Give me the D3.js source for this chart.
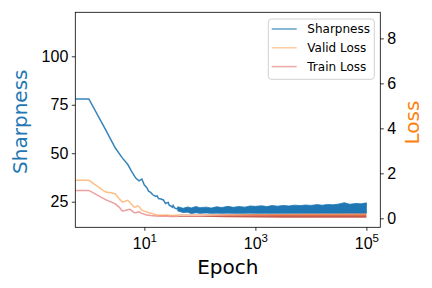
<!DOCTYPE html>
<html>
<head>
<meta charset="utf-8">
<script src="https://cdn.jsdelivr.net/npm/d3@7"></script>
<style>
  body { margin: 0; background: #fff; }
  svg { font-family: "DejaVu Sans", sans-serif; }
  .axis text { font-size: 16px; fill: #000; }
  .axis line, .axis path { stroke: #000; stroke-width: 0.8; }
</style>
</head>
<body>
<div id="chart"></div>
<script>
// sharpness, early part (epoch 0 is drawn at the left edge, like matplotlib's log clip)
const sharpEpochs = [0, 1, 2, 3, 4, 5, 6, 7, 8, 9, 10, 11, 12, 13, 14, 16, 17, 18, 20, 22, 24, 25, 27, 28, 30, 32, 33, 35, 38, 40];
const sharpValues = [78, 78, 62.2, 52.7, 47.6, 44.3, 40.3, 37.2, 35.8, 36.7, 33.6, 32.4, 30.3, 29.8, 28.7, 27.7, 28.0, 26.6, 26.4, 25.9, 24.1, 24.3, 24.6, 23.2, 22.8, 22.1, 23.1, 21.8, 21.3, 21.8];

// sharpness, dense noisy tail read as an envelope
const tailEpochs = [40, 50, 60, 70, 85, 100, 130, 160, 200, 250, 320, 400, 500, 650, 800, 1000, 1300, 1600, 2000, 2500, 3200, 4000, 5000, 6500, 8000, 10000, 13000, 16000, 20000, 25000, 32000, 40000, 50000, 65000, 80000, 100000];
const sharpHi = [22.4, 21.6, 22.3, 21.8, 22.5, 21.9, 22.2, 21.7, 22.4, 22.0, 22.6, 22.1, 22.5, 22.2, 22.8, 22.6, 22.9, 22.5, 23.0, 22.7, 23.1, 22.8, 23.2, 23.0, 23.3, 23.1, 23.5, 23.2, 23.6, 23.4, 23.8, 24.5, 23.7, 24.1, 23.9, 24.4];
const sharpLo = [20.2, 19.4, 19.6, 18.9, 19.3, 19.0, 19.2, 19.0, 19.1, 19.0, 19.1, 19.0, 19.0, 19.0, 19.1, 19.0, 19.0, 19.0, 19.0, 19.0, 19.0, 19.0, 19.0, 19.0, 19.0, 19.0, 19.0, 19.0, 19.0, 19.0, 19.0, 19.0, 19.0, 19.0, 19.0, 19.0];

// losses, early part
const validEpochs = [0, 1, 2, 2.5, 3, 3.5, 4, 4.5, 5, 5.5, 6, 6.5, 7, 7.5, 8, 9, 10, 12, 14, 17, 20, 25, 30, 40];
const validValues = [1.69, 1.69, 1.17, 1.14, 1.08, 0.88, 0.72, 0.76, 0.80, 0.70, 0.60, 0.50, 0.50, 0.55, 0.52, 0.36, 0.32, 0.25, 0.20, 0.15, 0.14, 0.15, 0.13, 0.14];
const trainEpochs = [0, 1, 2, 3, 3.5, 4, 4.5, 5, 5.5, 6, 6.5, 7, 8, 9, 10, 11, 13, 16, 20, 25, 30, 40];
const trainValues = [1.24, 1.24, 0.83, 0.64, 0.50, 0.33, 0.35, 0.38, 0.40, 0.33, 0.26, 0.25, 0.29, 0.22, 0.18, 0.15, 0.12, 0.10, 0.09, 0.09, 0.08, 0.08];

// losses, tail envelopes
const lossTailEpochs = [40, 100, 300, 1000, 3000, 10000, 30000, 100000];
const validLo = [0.12, 0.12, 0.11, 0.11, 0.10, 0.10, 0.09, 0.09];
const validHi = [0.17, 0.17, 0.18, 0.19, 0.19, 0.20, 0.20, 0.21];
const trainLo = [0.07, 0.07, 0.05, 0.04, 0.03, 0.02, 0.02, 0.02];
const trainHi = [0.10, 0.10, 0.11, 0.12, 0.12, 0.12, 0.13, 0.13];

const xTicks = [10, 1000, 100000];
const leftTicks = [25, 50, 75, 100];
const rightTicks = [0, 2, 4, 6, 8];
const legendLabels = ["Sharpness", "Valid Loss", "Train Loss"];

const width = 432, height = 288;
const m = { left: 75.3, right: 380.3, top: 12.3, bottom: 227.3 };

const svg = d3.select("#chart").append("svg")
    .attr("width", width)
    .attr("height", height);

const x = d3.scaleLog().domain([0.57, 1.78e5]).range([m.left, m.right]);
const ySharp = d3.scaleLinear().domain([11.8, 122.7]).range([m.bottom, m.top]);
const yLoss = d3.scaleLinear().domain([-0.4, 9.16]).range([m.bottom, m.top]);

const ex = e => x(Math.max(e, x.domain()[0]));

svg.append("clipPath").attr("id", "clip")
  .append("rect")
    .attr("x", m.left).attr("y", m.top)
    .attr("width", m.right - m.left).attr("height", m.bottom - m.top);

const plot = svg.append("g").attr("clip-path", "url(#clip)");

// sharpness
const sharpLine = d3.line().x(d => ex(d[0])).y(d => ySharp(d[1]));
plot.append("path")
    .datum(d3.zip(sharpEpochs, sharpValues))
    .attr("d", sharpLine)
    .attr("fill", "none")
    .attr("stroke", "#1f77b4")
    .attr("stroke-width", 1.5)
    .attr("stroke-opacity", 0.9);

const sharpArea = d3.area()
    .x(d => ex(d[0]))
    .y0(d => ySharp(d[1]))
    .y1(d => ySharp(d[2]));
plot.append("path")
    .datum(d3.zip(tailEpochs, sharpLo, sharpHi))
    .attr("d", sharpArea)
    .attr("fill", "#1f77b4")
    .attr("stroke", "#1f77b4")
    .attr("stroke-width", 0.8);

// losses
const lossLine = d3.line().x(d => ex(d[0])).y(d => yLoss(d[1]));
const lossArea = d3.area()
    .x(d => ex(d[0]))
    .y0(d => yLoss(d[1]))
    .y1(d => yLoss(d[2]));

plot.append("path")
    .datum(d3.zip(validEpochs, validValues))
    .attr("d", lossLine)
    .attr("fill", "none")
    .attr("stroke", "#ff7f0e")
    .attr("stroke-width", 1.5)
    .attr("stroke-opacity", 0.5);
plot.append("path")
    .datum(d3.zip(lossTailEpochs, validLo, validHi))
    .attr("d", lossArea)
    .attr("fill", "#ec7d48")
    .attr("fill-opacity", 0.9);

plot.append("path")
    .datum(d3.zip(trainEpochs, trainValues))
    .attr("d", lossLine)
    .attr("fill", "none")
    .attr("stroke", "#d62728")
    .attr("stroke-width", 1.5)
    .attr("stroke-opacity", 0.45);
plot.append("path")
    .datum(d3.zip(lossTailEpochs, trainLo, trainHi))
    .attr("d", lossArea)
    .attr("fill", "#bf4a3c")
    .attr("fill-opacity", 0.9);

// axes
const xAxis = d3.axisBottom(x).tickValues(xTicks).tickSize(3.5).tickPadding(3.5).tickSizeOuter(0).tickFormat("");
const gx = svg.append("g")
    .attr("class", "axis")
    .attr("transform", `translate(0,${m.bottom})`)
    .call(xAxis);
gx.selectAll(".tick text").remove();
gx.selectAll(".tick").append("text")
    .attr("y", 22)
    .attr("text-anchor", "middle")
    .each(function(d) {
        const t = d3.select(this);
        t.append("tspan").text("10");
        t.append("tspan").attr("dy", -7).attr("font-size", "11.5px").text(Math.round(Math.log10(d)));
    });

svg.append("g")
    .attr("class", "axis")
    .attr("transform", `translate(${m.left},0)`)
    .call(d3.axisLeft(ySharp).tickValues(leftTicks).tickSize(3.5).tickPadding(3.5).tickSizeOuter(0));

svg.append("g")
    .attr("class", "axis")
    .attr("transform", `translate(${m.right},0)`)
    .call(d3.axisRight(yLoss).tickValues(rightTicks).tickSize(3.5).tickPadding(3.5).tickSizeOuter(0));

svg.selectAll(".axis .domain").remove();
svg.append("rect")
    .attr("x", m.left).attr("y", m.top)
    .attr("width", m.right - m.left).attr("height", m.bottom - m.top)
    .attr("fill", "none")
    .attr("stroke", "#000")
    .attr("stroke-width", 0.8);

// axis labels
svg.append("text")
    .attr("x", (m.left + m.right) / 2)
    .attr("y", 273.5)
    .attr("text-anchor", "middle")
    .attr("font-size", "20px")
    .text("Epoch");

svg.append("text")
    .attr("transform", "translate(26.5,121.7) rotate(-90)")
    .attr("text-anchor", "middle")
    .attr("font-size", "20px")
    .attr("fill", "#1f77b4")
    .text("Sharpness");

svg.append("text")
    .attr("transform", "translate(419,122.5) rotate(-90)")
    .attr("text-anchor", "middle")
    .attr("font-size", "20px")
    .attr("fill", "#ff7f0e")
    .text("Loss");

// legend
const legendColors = ["#1f77b4", "#ff7f0e", "#d62728"];
const legendAlpha = [0.7, 0.4, 0.4];
const legend = svg.append("g").attr("transform", "translate(268.3,19)");
legend.append("rect")
    .attr("width", 106).attr("height", 60.3)
    .attr("rx", 3)
    .attr("fill", "#fff").attr("fill-opacity", 0.8)
    .attr("stroke", "#d0d0d0");
legendLabels.forEach((label, i) => {
    const yy = 10 + i * 18.8;
    legend.append("line")
        .attr("x1", 3.4).attr("x2", 28.4)
        .attr("y1", yy).attr("y2", yy)
        .attr("stroke", legendColors[i])
        .attr("stroke-opacity", legendAlpha[i])
        .attr("stroke-width", 1.5);
    legend.append("text")
        .attr("x", 39)
        .attr("y", yy + 4.3)
        .attr("font-size", "12px")
        .text(label);
});
</script>
</body>
</html>
